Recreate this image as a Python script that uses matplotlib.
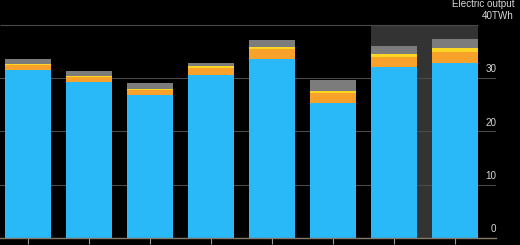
import matplotlib
matplotlib.use("Agg")
import matplotlib.pyplot as plt
import numpy as np
from matplotlib.transforms import blended_transform_factory, offset_copy

# Data (TWh)
categories = ["P1", "P2", "P3", "P4", "P5", "P6", "P7", "P8"]
blue_vals = [31.5, 29.3, 26.75, 30.55, 33.5, 25.4, 32.0, 32.75]
orange_vals = [0.95, 0.9, 1.05, 1.35, 1.95, 1.8, 1.95, 2.05]
yellow_vals = [0.1, 0.1, 0.1, 0.35, 0.3, 0.4, 0.5, 0.75]
gray_vals = [1.0, 1.1, 1.2, 0.65, 1.3, 2.0, 1.6, 1.75]
y_ticks = [0, 10, 20, 30, 40]
y_labels = ["0", "10", "20", "30", "40TWh"]
shaded = [6, 7]

BG = "#000000"
C_BLUE = "#29b9f9"
C_ORANGE = "#f8a12b"
C_YELLOW = "#fbd724"
C_GRAY = "#7c7c7c"
C_SHADE = "#333333"
C_GRID = "#4a4a4a"
C_TEXT = "#d9d9d9"
FS = 7.1

plt.rcParams['font.family'] = ['Liberation Sans', 'DejaVu Sans']

fig = plt.figure(figsize=(5.2, 2.45), dpi=100, facecolor=BG)
W, H = 520, 245
left_px, right_px = 0, 496
bottom_px, top_px = 238, 24.7
ax = fig.add_axes([left_px / W, (H - bottom_px) / H, (right_px - left_px) / W,
                   (bottom_px - top_px) / H])
ax.set_facecolor(BG)

x = np.arange(len(categories))
width = 0.754
x0, x1 = -28 / 61, 468 / 61
ax.set_xlim(x0, x1)
ax.set_ylim(0, 40)

# shaded period
ax.axvspan(shaded[0] - width / 2, shaded[-1] + width / 2, color=C_SHADE, zorder=0, lw=0)

# grid lines
for t in y_ticks[1:-1]:
    ax.axhline(t, color=C_GRID, lw=0.8, zorder=1)
ax.hlines(y_ticks[-1], x0, x[-1] + width / 2, color=C_GRID, lw=0.8, zorder=1, clip_on=False)

bottom = np.zeros(len(x))
for vals, col in [(blue_vals, C_BLUE), (orange_vals, C_ORANGE),
                  (yellow_vals, C_YELLOW), (gray_vals, C_GRAY)]:
    ax.bar(x, vals, width, bottom=bottom, color=col, lw=0, zorder=2)
    bottom += np.array(vals)

for s in ["top", "right", "left"]:
    ax.spines[s].set_visible(False)
ax.spines["bottom"].set_color("#85796c")
ax.spines["bottom"].set_linewidth(1.0)
ax.set_xticks(x)
ax.set_xticklabels([])
ax.tick_params(axis="x", direction="out", length=4, width=0.8, color="#9a9a9a")
ax.set_yticks([])

# right-side labels, above grid lines
tr = blended_transform_factory(fig.transFigure, ax.transData)
for t, lab in zip(y_ticks, y_labels):
    xr = 514 / W if lab.endswith("TWh") else 496.5 / W
    ax.text(xr, t, lab, transform=offset_copy(tr, fig=fig, x=0, y=5.6, units="dots"),
            ha="right", va="baseline", color=C_TEXT, fontsize=FS, clip_on=False)
fig.text(514 / W, 1 - 7.2 / H, "Electric output", ha="right", va="baseline",
         color=C_TEXT, fontsize=FS)

fig.savefig("out.png", dpi=100, facecolor=BG)
